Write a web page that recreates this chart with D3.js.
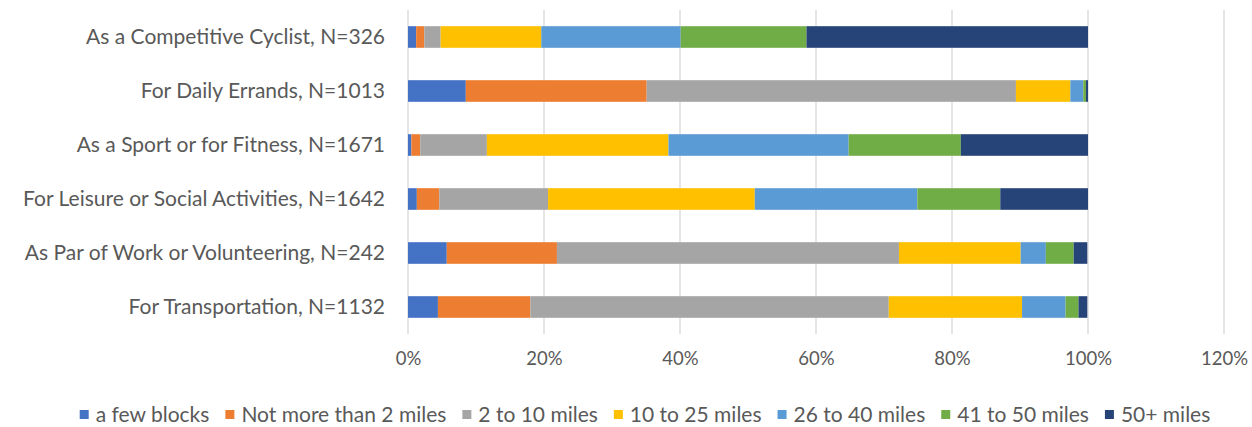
<!DOCTYPE html>
<html>
<head>
<meta charset="utf-8">
<script src="https://cdn.jsdelivr.net/npm/d3@7"></script>
<style>
  html, body { margin: 0; padding: 0; background: #ffffff; }
  svg { display: block; }
  text { font-family: Lato, "Open Sans", sans-serif; fill: #595959; }
</style>
</head>
<body>
<svg id="chart" width="1252" height="427"></svg>
<script>
const categories = [
  "As a Competitive Cyclist, N=326",
  "For Daily Errands, N=1013",
  "As a Sport or for Fitness, N=1671",
  "For Leisure or Social Activities, N=1642",
  "As Par of Work or Volunteering, N=242",
  "For Transportation, N=1132"
];
const seriesNames = ["a few blocks", "Not more than 2 miles", "2 to 10 miles", "10 to 25 miles", "26 to 40 miles", "41 to 50 miles", "50+ miles"];
const fewBlocks   = [1.2, 8.5, 0.5, 1.3, 5.7, 4.4];
const notMore2    = [1.2, 26.6, 1.3, 3.3, 16.2, 13.6];
const twoTo10     = [2.4, 54.3, 9.8, 16.0, 50.3, 52.7];
const tenTo25     = [14.8, 8.0, 26.7, 30.4, 17.9, 19.6];
const to40        = [20.5, 1.9, 26.5, 23.9, 3.7, 6.4];
const to50        = [18.5, 0.4, 16.5, 12.2, 4.1, 1.9];
const over50      = [41.4, 0.3, 18.7, 12.9, 2.0, 1.3];
const tickValues  = [0, 20, 40, 60, 80, 100, 120];
const colors = ["#4472C4", "#ED7D31", "#A5A5A5", "#FFC000", "#5B9BD5", "#70AD47", "#264478"];

const seriesValues = [fewBlocks, notMore2, twoTo10, tenTo25, to40, to50, over50];
const rows = categories.map((c, i) => {
  const r = { cat: c };
  seriesNames.forEach((s, j) => r[s] = seriesValues[j][i]);
  return r;
});
const stacked = d3.stack().keys(seriesNames)(rows);

const svg = d3.select("#chart");
const margin = { left: 408, right: 28, top: 10, bottom: 93 };
const W = 1252, H = 427;
const x = d3.scaleLinear().domain([0, 120]).range([margin.left, 1224]);
const y = d3.scaleBand().domain(categories).range([margin.top, H - margin.bottom]).paddingInner(0.6).paddingOuter(0.3);

// gridlines
svg.append("g")
  .selectAll("line").data(tickValues).join("line")
  .attr("x1", d => x(d)).attr("x2", d => x(d))
  .attr("y1", margin.top).attr("y2", H - margin.bottom)
  .attr("stroke", "#d9d9d9").attr("stroke-width", 1.3);

// bars
svg.append("g").selectAll("g").data(stacked).join("g")
  .attr("fill", (d, i) => colors[i])
  .selectAll("rect").data(d => d).join("rect")
  .attr("x", d => x(d[0]))
  .attr("width", d => x(d[1]) - x(d[0]))
  .attr("y", d => y(d.data.cat))
  .attr("height", y.bandwidth());

// x axis
const xAxis = svg.append("g")
  .attr("transform", `translate(0,${H - margin.bottom})`)
  .call(d3.axisBottom(x).tickValues(tickValues).tickFormat(d => d + "%").tickSize(0).tickPadding(18));
xAxis.select(".domain").remove();
xAxis.selectAll("text").style("font-size", "18.5px").style("font-family", "Lato, sans-serif").attr("fill", "#595959");

// y axis
const yAxis = svg.append("g")
  .attr("transform", `translate(${margin.left},0)`)
  .call(d3.axisLeft(y).tickSize(0).tickPadding(23));
yAxis.select(".domain").remove();
yAxis.selectAll("text").style("font-size", "21px").style("font-family", "Lato, sans-serif").attr("fill", "#595959");

// legend
const legend = svg.append("g").attr("transform", `translate(0,415)`);
const items = legend.selectAll("g").data(seriesNames).join("g");
items.append("rect").attr("width", 9).attr("height", 9).attr("y", -5).attr("fill", (d, i) => colors[i]);
items.append("text").attr("x", 16).attr("dy", "0.35em").style("font-size", "21px").text(d => d);
let cx = 0;
const gap = 16;
const widths = [];
items.each(function () { widths.push(this.getBBox().width); });
const total = d3.sum(widths) + gap * (widths.length - 1);
cx = 645 - total / 2;
items.attr("transform", (d, i) => { const t = `translate(${cx},0)`; cx += widths[i] + gap; return t; });
</script>
</body>
</html>
